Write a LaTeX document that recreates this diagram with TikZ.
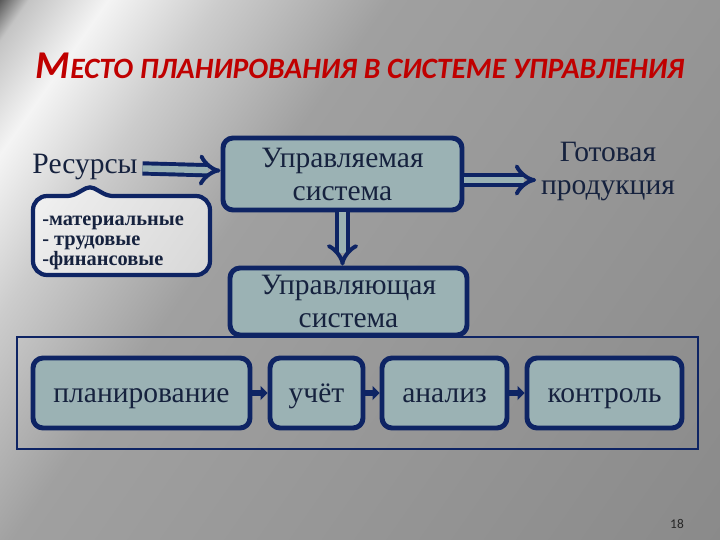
\documentclass[tikz,border=0pt]{standalone}
\usepackage{fontspec}
\setmainfont{Liberation Serif}
\newfontfamily\titlefont{Carlito}
\usetikzlibrary{arrows.meta}
\definecolor{navy}{HTML}{0E2464}
\definecolor{boxfill}{HTML}{9BB2B4}
\definecolor{txt}{HTML}{16223E}
\definecolor{titlered}{HTML}{C00000}
\definecolor{bgdark}{HTML}{5A5A5A}
\definecolor{bgsoft}{HTML}{C4C4C4}
\definecolor{bglight}{HTML}{F4F4F4}
\definecolor{bgpale}{HTML}{CCCCCC}
\definecolor{bgmid}{HTML}{A0A0A0}
\definecolor{bgend}{HTML}{8A8A8A}
\pgfdeclarehorizontalshading{slidebg}{100bp}{color(0bp)=(bgdark); color(25bp)=(bgdark); color(26.3bp)=(bgsoft); color(29.9bp)=(bglight); color(35bp)=(bgpale); color(42.7bp)=(bgmid); color(75bp)=(bgend); color(100bp)=(bgend)}

\begin{document}
\begin{tikzpicture}[>={Triangle[length=5pt,width=10pt]},
    block/.style={draw=navy,line width=3.5pt,rounded corners=0.25cm,fill=boxfill,
      text=txt,align=center,inner sep=0pt,font=\fontsize{21}{23.5}\selectfont},
    stage/.style={block,minimum height=1.75cm,text height=17pt,text depth=3pt},
    plain text/.style={text=txt,align=center,font=\fontsize{21}{23.5}\selectfont},
    hollow/.style={draw=navy,line width=2.8pt,double=boxfill,double distance=4.5pt,-{Implies[scale=1.2]}},
    flow arrow/.style={draw=navy,line width=4.5pt,->}]
    \useasboundingbox (0,0) rectangle (18,-13.5);
    \begin{scope}
      \clip (0,0) rectangle (18,-13.5);
      \shade[shading=slidebg,transform canvas={rotate=-35}] (0,-11.2) rectangle (22.6,10.4);
    \end{scope}
    \node[text=titlered,font=\titlefont\bfseries\itshape,anchor=base] (title) at (9,-1.95)
      {{\fontsize{28}{28}\selectfont М}{\fontsize{21}{21}\selectfont ЕСТО ПЛАНИРОВАНИЯ В СИСТЕМЕ УПРАВЛЕНИЯ}};
    \draw[navy,line width=2pt] (0.425,-8.425) rectangle (17.45,-11.225);
    \draw[draw=navy,line width=3pt,fill=white,fill opacity=0.6] (0.825,-5.8)
      [rounded corners=0.35cm] -- (0.825,-4.9)
      [rounded corners=0.12cm] -- (1.8,-4.9) -- (2.25,-4.65) -- (2.7,-4.9)
      [rounded corners=0.35cm] -- (5.25,-4.9) -- (5.25,-6.875) -- (0.825,-6.875) -- cycle;
    \node[plain text] (res) at (2.125,-4.17) {Ресурсы};
    \node[text=txt,align=left,anchor=north west,inner sep=0pt,
      font=\fontsize{14.5}{14}\selectfont\bfseries] (lst) at (1.05,-5.4)
      {-материальные\\- трудовые\\-финансовые};
    \node[block,minimum width=5.975cm,minimum height=1.8cm] (ctrl) at (8.5625,-4.35)
      {Управляемая\\система};
    \node[plain text] (prod) at (15.2,-4.28) {Готовая\\продукция};
    \node[block,minimum width=5.925cm,minimum height=1.675cm] (mgmt) at (8.7125,-7.5375)
      {Управляющая\\система};
    \node[stage,minimum width=5.425cm] (plan) at (3.5375,-9.825) {планирование};
    \node[stage,minimum width=2.325cm] (acc) at (7.9125,-9.825) {учёт};
    \node[stage,minimum width=3.125cm] (anl) at (11.1125,-9.825) {анализ};
    \node[stage,minimum width=3.875cm] (ctl) at (15.1125,-9.825) {контроль};
    \node[font=\titlefont\fontsize{9.5}{9.5}\selectfont,text=black!85] (page) at (16.925,-13.1) {18};
    \path (res) edge[hollow] (ctrl)
          ([yshift=-0.15cm]ctrl.east) edge[hollow] ([yshift=-0.15cm]ctrl.east -| prod.west)
          (ctrl.south) edge[hollow] (ctrl.south |- mgmt.north)
          (plan) edge[flow arrow] (acc)
          (acc) edge[flow arrow] (anl)
          (anl) edge[flow arrow] (ctl);
\end{tikzpicture}
\end{document}
